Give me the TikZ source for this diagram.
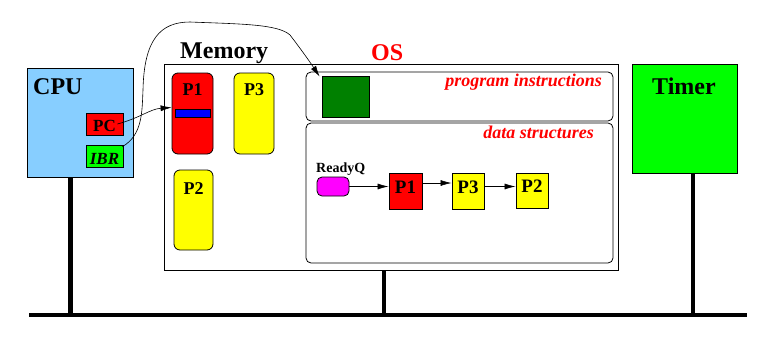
\documentclass[tikz,border=0pt]{standalone}
\usepackage{fontspec}
\setmainfont{Liberation Serif}
\usetikzlibrary{arrows.meta}

\definecolor{cpublue}{RGB}{135,206,255}
\definecolor{lime}{RGB}{0,255,0}
\definecolor{darkgreen}{RGB}{0,128,0}
\definecolor{pred}{RGB}{255,0,0}
\definecolor{pyellow}{RGB}{255,255,0}
\definecolor{pblue}{RGB}{0,0,255}
\definecolor{pmagenta}{RGB}{255,0,255}

\tikzset{
  box/.style={draw, line width=0.8pt, inner sep=0pt},
  memproc/.style={box, rounded corners=6pt, minimum width=41pt, minimum height=81pt},
  qitem/.style={box, minimum width=33pt, minimum height=36pt},
  region/.style={box, rounded corners=5pt, minimum width=307pt},
  title/.style={inner sep=0pt, anchor=base west, font=\fontsize{24}{28}\selectfont\bfseries},
  ptext/.style={inner sep=0pt, anchor=base, font=\fontsize{18}{22}\selectfont\bfseries},
  redlbl/.style={inner sep=0pt, anchor=base east, text=pred, font=\fontsize{18}{21}\selectfont\bfseries\itshape},
  link/.style={line width=0.6pt, -{Latex[length=11pt,width=6pt]}},
  bus/.style={line width=4.5pt}
}

\begin{document}
\begin{tikzpicture}[x=1pt, y=-1pt]
  \useasboundingbox (0,0) rectangle (778,338);

  % CPU
  \node[box, fill=cpublue, minimum width=106pt, minimum height=109pt] (cpu) at (80,122.5) {};
  \node[title] (cputxt) at (33,94) {CPU};
  \node[box, fill=pred, minimum width=37pt, minimum height=22pt] (pc) at (104.5,124) {};
  \node[ptext, font=\fontsize{17}{20}\selectfont\bfseries] (pctxt) at (104.5,131) {PC};
  \node[box, fill=lime, minimum width=37pt, minimum height=22pt] (ibr) at (104.5,156) {};
  \node[ptext, font=\fontsize{17}{20}\selectfont\bfseries\itshape] (ibrtxt) at (104.5,164) {IBR};

  % memory
  \node[box, minimum width=454pt, minimum height=206pt] (mem) at (391,167) {};
  \node[title] (memtxt) at (180,58) {Memory};
  \node[title, text=pred] (ostxt) at (371,60) {OS};

  \node[memproc, fill=pred] (p1) at (192.5,113.5) {};
  \node[ptext] (p1txt) at (192.5,95) {P1};
  \node[box, fill=pblue, minimum width=35pt, minimum height=8pt] (pcbar) at (192.5,113) {};
  \node[memproc, fill=pyellow, minimum width=40pt] (p3) at (254,113.5) {};
  \node[ptext] (p3txt) at (254,95) {P3};
  \node[memproc, fill=pyellow, minimum width=39pt, minimum height=80pt] (p2) at (193.5,210) {};
  \node[ptext] (p2txt) at (193.5,194) {P2};

  % OS part
  \node[region, minimum height=49pt] (prog) at (459.5,96.5) {};
  \node[redlbl] (progtxt) at (602,86) {program instructions};
  \node[box, fill=darkgreen, minimum width=47pt, minimum height=41pt] (code) at (345.5,96.5) {};
  \node[region, minimum height=140pt] (data) at (459.5,193) {};
  \node[redlbl] (datatxt) at (594,138) {data structures};

  % ready queue
  \node[inner sep=0pt, anchor=base west, font=\fontsize{14}{16}\selectfont\bfseries] (rqtxt) at (316,172) {ReadyQ};
  \node[box, fill=pmagenta, rounded corners=5pt, minimum width=32pt, minimum height=19pt] (rq) at (333,186.5) {};
  \node[qitem, fill=pred] (q1) at (405.5,191) {};
  \node[ptext, font=\fontsize{19}{22}\selectfont\bfseries] (q1txt) at (405.5,193) {P1};
  \node[qitem, fill=pyellow, minimum width=32pt] (q3) at (468,191) {};
  \node[ptext, font=\fontsize{19}{22}\selectfont\bfseries] (q3txt) at (468,193) {P3};
  \node[qitem, fill=pyellow, minimum width=32pt, minimum height=35pt] (q2) at (532,190.5) {};
  \node[ptext, font=\fontsize{19}{22}\selectfont\bfseries] (q2txt) at (532,192) {P2};
  \draw[link] (rq.east) -- (q1.west |- rq.east);
  \draw[link] ([yshift=8pt]q1.east) -- ([yshift=8pt]q3.west);
  \draw[link] (q3.east |- rq.east) -- (q2.west |- rq.east);

  % timer
  \node[box, fill=lime, minimum width=105pt, minimum height=109pt] (timer) at (684.5,118.5) {};
  \node[title] (timertxt) at (652,94) {Timer};

  % PC and IBR point into memory
  \draw[link] ([xshift=-6pt]pc.east) .. controls (140,118) and (150,109) .. ([yshift=6pt]p1.west);
  \draw[link] ([xshift=-1pt,yshift=-2pt]ibr.north east) .. controls (143,135) and (142,110) .. (143,90)
    .. controls (144,40) and (160,22) .. (190,22)
    .. controls (240,24) and (278,24) .. (290,35)
    .. controls (300,48) and (310,62) .. ([xshift=-2pt,yshift=-1pt]code.north west);

  % system bus
  \coordinate (busl) at (29,315);
  \coordinate (busr) at (747,315);
  \draw[bus] (busl) -- (busr);
  \draw[bus] ([xshift=-9.5pt]cpu.south) -- ([xshift=-9.5pt]cpu.south |- busl);
  \draw[bus] ([xshift=-7pt]mem.south) -- ([xshift=-7pt]mem.south |- busl);
  \draw[bus] ([xshift=8.5pt]timer.south) -- ([xshift=8.5pt]timer.south |- busl);
\end{tikzpicture}
\end{document}
